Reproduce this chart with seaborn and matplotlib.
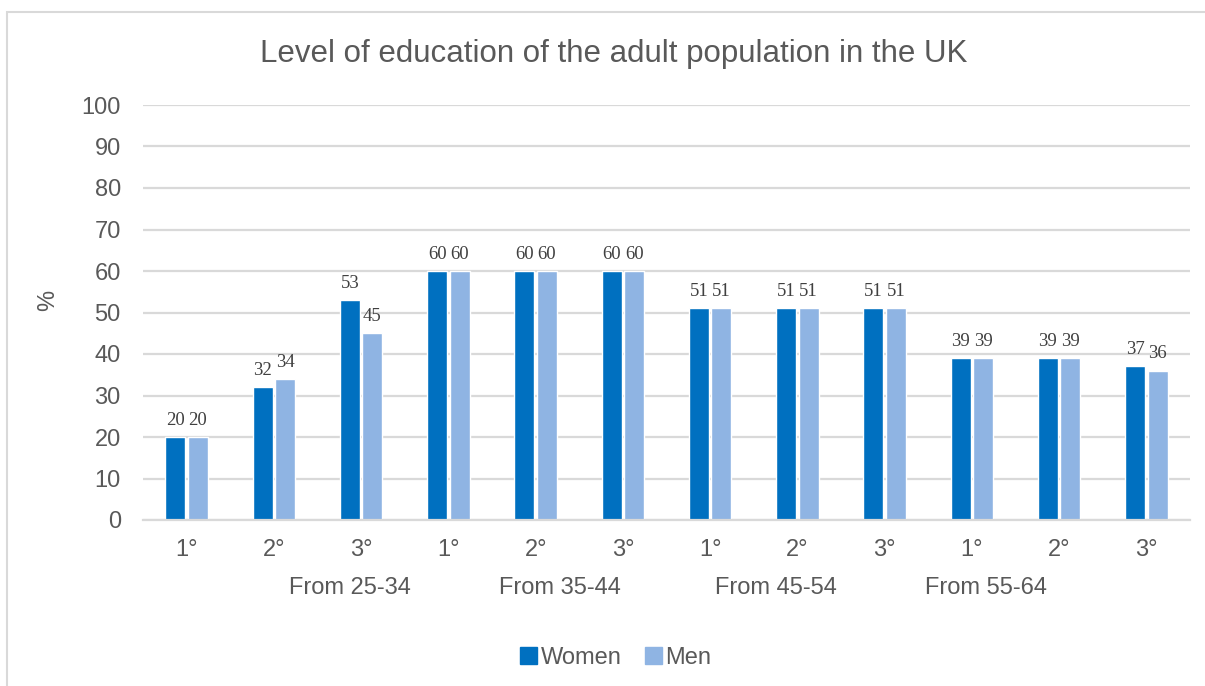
import pandas as pd
import matplotlib.pyplot as plt
import seaborn as sns
from matplotlib.patches import Rectangle

# ── data ─────────────────────────────────────────────────────
levels = ["1°", "2°", "3°"] * 4
age_groups = ["From 25-34", "From 35-44", "From 45-54", "From 55-64"]
women = [20, 32, 53, 60, 60, 60, 51, 51, 51, 39, 39, 37]
men = [20, 34, 45, 60, 60, 60, 51, 51, 51, 39, 39, 36]
series = ["Women", "Men"]
colors = ["#0070C0", "#8FB4E3"]

df = pd.DataFrame({
    "slot": list(range(len(levels))) * 2,
    "sex": ["Women"] * len(women) + ["Men"] * len(men),
    "pct": women + men,
})

sns.set_theme(style="white")
plt.rcParams["font.family"] = ["Liberation Sans", "DejaVu Sans"]
grey = "#595959"

fig = plt.figure(figsize=(12.05, 6.86), dpi=100)
ax = fig.add_axes([143 / 1205, 1 - 520 / 686, 1047 / 1205, 415 / 686])

sns.barplot(data=df, x="slot", y="pct", hue="sex", hue_order=series,
            palette=colors, width=0.515, gap=0.11, ax=ax, saturation=1,
            legend=False)

# data labels in a serif face, as in the original
for cont in ax.containers:
    ax.bar_label(cont, fmt="%d", padding=6, fontsize=13.5, color="#404040",
                 family="Liberation Serif")

ax.set_ylim(0, 100)
ax.set_xlim(-0.5, len(levels) - 0.5)
ax.set_yticks(range(0, 101, 10))
ax.yaxis.grid(True, color="#D9D9D9", linewidth=1.6)
ax.set_axisbelow(True)
for s in ["top", "right", "left"]:
    ax.spines[s].set_visible(False)
ax.spines["bottom"].set_color("#D9D9D9")
ax.spines["bottom"].set_linewidth(1.6)
ax.tick_params(axis="both", length=0, labelsize=17, labelcolor=grey)
ax.tick_params(axis="x", pad=14)
ax.tick_params(axis="y", pad=16)
ax.set_xticks(range(len(levels)))
ax.set_xticklabels(levels)
ax.set_xlabel("")
ax.set_ylabel("")
fig.text(48 / 1205, 1 - 300 / 686, "%", rotation=90, ha="center", va="center",
         fontsize=17, color=grey)

# second-level category labels (Excel places them off-centre)
group_x = [1.87, 4.28, 6.75, 9.16]
for gx, name in zip(group_x, age_groups):
    ax.text(gx, -16.3, name, ha="center", va="center", fontsize=17,
            color=grey, transform=ax.transData, clip_on=False)

fig.text(0.509, 1 - 54 / 686, "Level of education of the adult population in the UK",
         ha="center", va="center", fontsize=22.5, color=grey)

handles = [Rectangle((0, 0), 1, 1, color=c) for c in colors]
fig.legend(handles, series, loc="center", bbox_to_anchor=(0.511, 1 - 658 / 686),
           ncol=2, frameon=False, fontsize=17, labelcolor=grey,
           handlelength=0.7, handleheight=0.7, handletextpad=0.15,
           columnspacing=1.0)

# light chart-area border running off the right and bottom edges
fig.patches.append(Rectangle((7 / 1205, -0.1), 1.2, 1.1 - 12 / 686,
                             transform=fig.transFigure, fill=False,
                             edgecolor="#D9D9D9", linewidth=1.5))

fig.savefig("out.png", dpi=100)
